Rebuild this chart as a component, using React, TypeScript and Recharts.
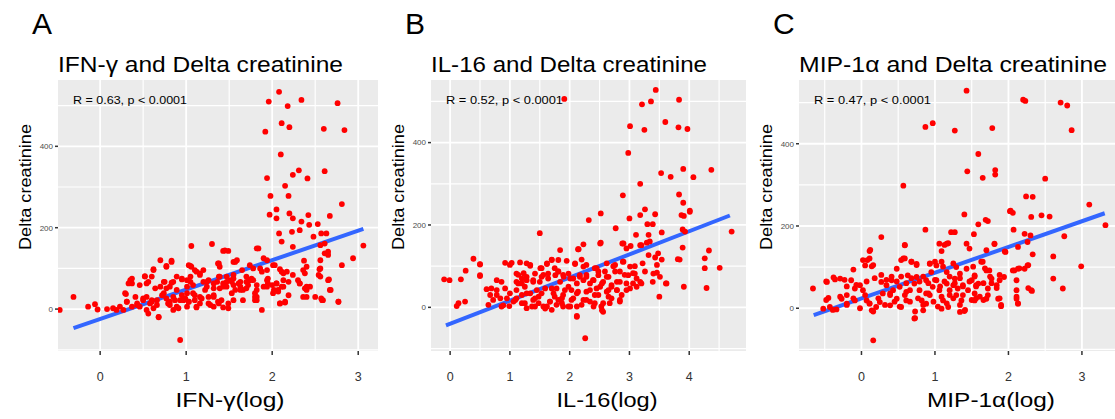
import React from 'react';
import { ScatterChart, Scatter, XAxis, YAxis, CartesianGrid, ReferenceLine } from 'recharts';

const FONT = '"Liberation Sans", Arial, Helvetica, sans-serif';

// [log concentration, delta creatinine]
const ifnPoints: [number, number][] = [
  [2.08, 534], [1.96, 510], [2.18, 499], [2.34, 514], [2.76, 506], [2.11, 457], [2.2, 447], [1.92, 436], [2.6, 443], [2.84, 440],
  [2.1, 380], [2.31, 341], [2.24, 330], [2.41, 321], [2.61, 339], [1.94, 322], [2.15, 303], [1.98, 278], [2.19, 278], [2.81, 258], [2.05, 245],
  [1.97, 232], [2.05, 223], [2.2, 235], [2.24, 223], [2.34, 215], [2.42, 231], [2.53, 209], [2.67, 229], [2.08, 186], [2.11, 166],
  [2.23, 190], [2.32, 194], [2.43, 207], [2.48, 178], [2.57, 186], [2.63, 186], [2.61, 161], [2.65, 141], [2.65, 133], [3.06, 156],
  [2.94, 125], [2.81, 108], [2.24, 153], [2.56, 157], [2.37, 119], [2.4, 104], [2.56, 120], [2.56, 100], [2.54, 84], [2.36, 96],
  [2.3, 71], [2.32, 63], [2.38, 51], [2.4, 30], [2.5, 30], [2.57, 26], [2.65, 71], [2.67, 47], [2.77, 18], [2.58, 22],
  [2.15, 16], [2.09, 14], [2.19, 34], [2.13, 55], [2.13, 71], [2.05, 63], [2.0, 59], [2.02, 47], [2.07, 43], [2.17, 92],
  [2.24, 84], [2.11, 92], [1.94, 96], [2.01, 108], [1.95, 75], [1.9, 55], [1.82, 47], [1.82, 30], [1.88, -2], [1.8, 22],
  [1.78, 71], [1.72, 59], [1.7, 80], [1.63, 67], [1.55, 59], [1.51, 71], [1.47, 55], [1.43, 63], [1.39, 51], [1.36, 67],
  [1.38, 80], [1.32, 51], [1.26, 71], [1.2, 96], [1.16, 84], [1.12, 92], [1.06, 104], [1.03, 108], [1.05, 80], [1.08, 59],
  [1.01, 71], [0.95, 75], [0.89, 80], [0.85, 67], [0.81, 55], [0.77, 51], [0.75, 67], [0.7, 120], [0.83, 116], [0.77, 104],
  [0.62, 96], [0.52, 80], [0.46, 59], [0.56, 67], [0.35, 71], [0.37, 75], [0.33, 63], [0.3, 37], [0.41, 30], [0.31, 18],
  [0.37, 6], [0.43, 10], [0.5, 22], [0.54, 30], [0.58, 14], [0.62, 2], [0.68, -19], [0.66, 22], [0.72, 34], [0.77, 26],
  [0.81, 10], [0.85, -2], [0.89, 6], [0.93, 22], [0.99, 26], [1.03, 18], [1.08, 39], [1.12, 4], [1.16, 30], [1.22, 47],
  [1.28, 10], [1.32, 30], [1.38, 14], [1.41, 22], [1.49, 2], [1.53, 39], [1.55, 22], [0.93, -76], [1.06, 155], [1.3, 160],
  [1.43, 143], [1.49, 143], [1.59, 120], [1.55, 116], [1.65, 96], [1.78, 100], [1.84, 149], [1.9, 125], [1.94, 120], [1.38, 112],
  [1.39, 104], [1.01, 39], [1.01, 55], [0.89, 47], [0.95, 34], [1.2, 67], [1.24, 55], [1.63, 47], [1.7, 51], [1.47, 80],
  [1.55, 84], [1.8, 39], [1.66, 22], [0.15, 2], [0.08, 0], [-0.03, -1], [-0.06, 12], [-0.14, 6], [-0.31, 30], [-0.47, -2],
  [0.23, 6], [0.27, -2], [0.19, -2], [0.46, 6], [0.54, -2], [0.56, -11], [0.6, 22], [0.7, 55], [0.64, 51], [0.81, 18],
  [0.87, 22], [1.01, 6], [1.1, 22], [1.16, 14], [1.26, 30], [1.32, 6], [1.43, 4], [1.53, 67], [1.74, 71], [1.88, 92], [1.95, 63],
  [1.45, 144], [1.82, 149], [0.83, 119], [0.77, 106], [0.62, 98], [1.05, 106], [1.1, 96], [1.16, 88], [1.37, 112], [1.57, 116],
  [1.74, 108], [1.86, 100], [2.03, 108], [2.09, 98], [2.13, 88], [0.37, 63], [0.52, 81], [0.54, 63], [0.6, 80], [0.74, 67],
  [0.83, 65], [0.95, 73], [1.05, 67], [1.24, 67], [1.32, 63], [1.39, 80], [1.47, 67], [1.55, 75], [1.61, 63], [1.7, 67],
  [1.76, 75], [1.82, 59], [1.94, 71], [2.05, 63], [2.11, 55], [2.19, 67], [2.32, 63], [2.4, 55], [2.38, 88], [2.55, 98],
  [2.56, 80], [2.61, 137], [2.66, 73], [2.68, 47], [0.29, 39], [0.31, 18], [0.43, 14], [0.5, 26], [0.6, 18], [0.66, 10],
  [0.68, -20], [0.74, 39], [0.79, 14], [0.85, 30], [0.91, 2], [0.97, 22], [1.03, 18], [1.1, 34], [1.12, 6], [1.18, 26],
  [1.26, 14], [1.32, 34], [1.37, 18], [1.43, 55], [1.49, 14], [1.57, 47], [1.63, 55], [1.66, 47], [1.8, 30], [1.82, 22],
  [1.94, 55], [2.01, 39], [2.07, 47], [2.09, 14], [2.15, 18], [2.36, 30], [2.4, 47], [2.44, 55], [2.59, 22], [2.77, 18],
];

const il16Points: [number, number][] = [
  [1.91, 506], [3.44, 528], [3.21, 493], [3.36, 500], [3.83, 504], [3.01, 440], [3.25, 431], [3.6, 450], [3.82, 437], [3.97, 433],
  [2.98, 375], [3.53, 326], [3.69, 317], [3.9, 336], [4.07, 316], [4.37, 334], [3.18, 300], [2.89, 272], [3.83, 274], [3.9, 254],
  [3.26, 238], [4.01, 235], [2.52, 228], [2.32, 212], [3.0, 216], [3.18, 224], [3.43, 226], [3.3, 202], [3.39, 202], [3.87, 224],
  [3.91, 222], [4.01, 232], [2.77, 192], [1.5, 180], [2.52, 157], [2.88, 155], [3.11, 176], [3.32, 176], [3.54, 182], [3.89, 189],
  [3.93, 184], [4.71, 184], [2.23, 153], [2.14, 141], [1.84, 139], [2.95, 143], [3.18, 151], [3.34, 160], [3.89, 145], [4.33, 138],
  [4.26, 119], [3.81, 117], [3.43, 121], [3.48, 131], [0.39, 118], [0.5, 104], [0.26, 89], [1.17, 109], [1.28, 107], [1.34, 101],
  [1.7, 115], [1.62, 107], [1.53, 95], [1.95, 113], [2.09, 107], [2.23, 99], [2.45, 95], [2.62, 107], [2.76, 103], [2.89, 111],
  [3.01, 99], [3.09, 100], [3.22, 107], [4.26, 95], [4.51, 96], [4.29, 47], [3.91, 50], [3.5, 26], [3.61, 58], [3.46, 84],
  [3.39, 62], [-0.1, 68], [-0.01, 66], [0.18, 68], [0.5, 76], [0.11, 3], [0.14, 10], [0.25, 14], [0.64, 6], [0.69, 46],
  [0.78, 66], [0.86, 62], [0.78, 30], [0.72, 18], [0.86, 2], [0.99, 3], [1.09, 18], [1.11, 42], [1.14, 79], [1.23, 83],
  [1.28, 66], [1.25, 50], [1.2, 30], [1.25, 10], [1.39, 18], [1.45, 42], [1.5, 62], [1.56, 79], [1.64, 70], [1.59, 46],
  [1.42, 2], [1.56, 2], [1.7, -6], [1.67, 14], [1.75, 26], [1.78, 46], [1.84, 62], [1.81, 87], [1.89, 79], [2.01, 70],
  [1.98, 50], [1.89, 30], [1.87, 10], [2.01, 2], [2.06, 22], [2.14, 38], [2.12, 58], [2.23, 66], [2.28, 79], [2.34, 58],
  [2.28, 38], [2.23, 18], [2.12, -21], [2.34, 14], [2.42, 30], [2.51, 50], [2.56, 62], [2.53, 2], [2.56, -11], [2.65, 26],
  [2.7, 54], [2.79, 42], [2.84, 62], [2.87, 30], [2.84, 18], [2.92, 79], [3.06, 58], [3.12, 70], [3.2, 58], [3.26, 87],
  [3.06, 83], [2.95, 42], [2.26, -75], [1.0, 103], [1.11, 62], [1.34, 34], [1.48, 26], [1.89, 2], [2.12, 2], [2.42, 10],
  [2.62, 74], [2.76, 87], [2.48, 87], [1.75, 95], [1.39, 66], [1.2, 58], [0.92, 46], [0.95, 22], [1.7, 46], [2.03, 42],
  [2.17, 74], [2.39, 66], [2.45, 46], [2.65, 42], [2.67, 10], [1.28, -2], [1.62, 2], [1.81, 18],
  [0.5, 105], [0.5, 78], [0.92, 108], [1.03, 108], [1.34, 103], [1.51, 95], [1.62, 105], [1.7, 116], [1.81, 115], [2.15, 141],
  [2.2, 116], [2.09, 105], [2.28, 103], [2.51, 155], [2.42, 95], [2.59, 87], [2.73, 100], [2.9, 111], [2.9, 155], [3.02, 149],
  [3.2, 151], [3.29, 157], [3.32, 127], [3.46, 103], [3.54, 116], [3.4, 82], [3.51, 74], [3.62, 58], [3.84, 116], [1.11, 82],
  [1.2, 70], [1.14, 58], [1.28, 74], [1.39, 62], [1.42, 82], [1.53, 74], [1.64, 82], [1.76, 78], [1.81, 87], [1.9, 74],
  [1.98, 82], [2.06, 70], [2.17, 78], [2.28, 74], [2.4, 66], [2.48, 78], [2.54, 58], [2.65, 74], [2.7, 50], [2.79, 62],
  [2.84, 87], [2.98, 78], [3.09, 82], [3.18, 62], [3.12, 50], [0.61, 44], [0.67, 30], [0.78, 42], [0.84, 22], [0.89, 5],
  [1.0, 34], [1.06, 14], [1.11, 22], [1.2, 10], [1.28, 34], [1.37, 2], [1.42, 22], [1.48, 10], [1.53, 34], [1.59, -3],
  [1.67, 14], [1.73, 34], [1.78, 6], [1.87, 22], [1.92, 42], [1.98, 2], [2.03, 18], [2.12, -23], [2.12, 34], [2.2, 6],
  [2.28, 18], [2.34, 42], [2.4, 2], [2.48, 30], [2.54, -7], [2.56, 10], [2.62, 38], [2.7, 22], [2.79, 42], [2.84, 14],
  [2.95, 58], [3.01, 46],
];

const mipPoints: [number, number][] = [
  [1.43, 529], [2.2, 507], [2.23, 504], [2.71, 500], [2.8, 493], [0.87, 441], [0.97, 450], [1.27, 432], [1.78, 438], [2.86, 433],
  [1.59, 375], [1.44, 333], [1.65, 317], [1.82, 336], [1.82, 325], [2.5, 315], [0.57, 298], [2.24, 272], [2.33, 271], [3.1, 252],
  [2.03, 237], [1.4, 228], [2.02, 236], [2.06, 232], [2.31, 222], [2.45, 226], [2.56, 223], [1.69, 215], [1.72, 212], [1.59, 204],
  [3.32, 202], [0.87, 191], [1.22, 185], [1.27, 185], [1.53, 180], [2.07, 191], [2.22, 181], [2.3, 177], [2.76, 175], [0.27, 173],
  [1.06, 157], [1.16, 157], [1.43, 157], [1.47, 145], [1.81, 157], [1.7, 141], [1.96, 137], [2.13, 149], [0.11, 139], [0.59, 153],
  [2.61, 126], [1.09, 139], [2.33, 131], [2.26, 161], [0.08, 117], [0.05, 104], [0.14, 102], [0.54, 117], [0.59, 121], [0.68, 113],
  [0.75, 108], [0.93, 108], [1.02, 104], [1.09, 113], [1.29, 100], [1.43, 96], [1.65, 113], [1.7, 92], [1.74, 92], [2.08, 92],
  [2.13, 96], [2.22, 96], [2.26, 104], [2.99, 102], [-0.11, 94], [-0.29, 72], [-0.38, 75], [-0.47, 64], [-0.66, 48], [-0.45, 25],
  [-0.52, -1], [-0.43, 3], [-0.34, -3], [-0.27, 23], [-0.2, 32], [-0.14, 68], [-0.09, 48], [-0.02, 56], [0.02, 44], [0.07, 19],
  [0.11, 11], [0.14, -5], [0.16, -78], [0.2, 3], [0.25, 15], [0.29, 36], [0.27, 64], [0.34, 56], [0.41, 68], [0.43, 44],
  [0.48, 23], [0.54, 3], [0.61, 19], [0.66, 44], [0.72, 60], [0.63, 80], [0.75, 76], [0.79, 44], [0.82, 19], [0.72, -25],
  [0.84, -5], [0.88, 11], [0.93, 32], [0.97, 52], [1.02, 68], [1.06, 44], [1.11, 19], [1.09, -1], [1.18, 3], [1.2, 32],
  [1.25, 56], [1.27, 72], [1.31, 48], [1.36, 19], [1.34, -9], [1.4, -7], [1.45, 44], [1.5, 68], [1.54, 80], [1.56, 56],
  [1.54, 19], [1.61, 28], [1.7, 23], [1.72, 48], [1.77, 72], [1.84, 56], [1.88, 68], [1.94, 76], [1.9, 5], [1.86, 23],
  [2.11, 44], [2.11, 23], [2.13, 11], [2.11, 68], [2.32, 42], [2.61, 72], [2.74, 48], [0.39, 7], [-0.09, 19], [-0.2, 11],
  [0.48, 96], [0.95, 88], [1.16, 88], [1.34, 84], [0.52, 52], [0.88, 68], [1.16, 60], [1.38, 56], [1.59, 60], [0.61, 40],
  [1.29, 32], [0.88, 36], [0.39, 36],
  [0.12, 142], [0.59, 154], [1.13, 154], [1.18, 158], [1.81, 156], [1.95, 138], [0.02, 117], [0.11, 121], [0.16, 105], [0.57, 121],
  [0.68, 113], [0.75, 105], [0.93, 109], [1.0, 113], [1.11, 101], [1.25, 109], [1.52, 101], [1.63, 113], [1.68, 97], [1.75, 77],
  [1.88, 81], [2.06, 92], [2.15, 97], [2.27, 105], [2.31, 44], [-0.48, 65], [-0.36, 70], [-0.23, 69], [-0.2, 53], [-0.07, 57],
  [0.07, 65], [0.18, 73], [0.27, 81], [0.34, 69], [0.41, 77], [0.48, 65], [0.54, 77], [0.61, 61], [0.68, 73], [0.79, 65],
  [0.84, 77], [0.91, 61], [1.0, 69], [1.07, 53], [1.13, 65], [1.2, 77], [1.27, 61], [1.34, 73], [1.38, 53], [1.47, 65],
  [1.54, 77], [1.56, 53], [1.66, 61], [1.77, 61], [1.84, 49], [-0.48, 20], [-0.39, -4], [-0.29, 28], [-0.2, 8], [-0.11, 24],
  [-0.02, 0], [0.05, 32], [0.11, 12], [0.16, -8], [0.23, 24], [0.32, 8], [0.39, 32], [0.45, 16], [0.52, 4], [0.59, 32],
  [0.66, 16], [0.73, -8], [0.77, 24], [0.84, 8], [0.91, 36], [0.98, 16], [1.04, 4], [1.09, 28], [1.16, 12], [1.2, 44],
  [1.25, 24], [1.34, 8], [1.38, 32], [1.41, -4], [1.5, 20], [1.54, 36], [1.56, 24], [1.66, 20], [1.72, 32], [1.88, 24],
  [1.9, 8], [2.11, 28], [2.13, 12], [2.27, 49], [0.73, -24],
];

// fitted line end points
const ifnFit = [{ x: -0.31, y: -47 }, { x: 3.06, y: 197 }];
const il16Fit = [{ x: -0.07, y: -44 }, { x: 4.68, y: 223 }];
const mipFit = [{ x: -0.65, y: -17 }, { x: 3.31, y: 231 }];

const ifnXTicks = [0, 1, 2, 3];
const il16XTicks = [0, 1, 2, 3, 4];
const mipXTicks = [0, 1, 2, 3];
const yTicks = [0, 200, 400];
const yMinor = [-100, 100, 300, 500];

const panels = [
  {
    letter: 'A', title: 'IFN-γ and Delta creatinine', xTitle: 'IFN-γ(log)', stat: 'R = 0.63, p < 0.0001',
    points: ifnPoints, fit: ifnFit, xTicks: ifnXTicks, xMinor: [0.5, 1.5, 2.5],
    xDomain: [-0.49, 3.23], yDomain: [-103, 563],
    left: 0, width: 378,
    titleW: 285, statW: 114, xTitleX: 230, xTitleW: 109,
  },
  {
    letter: 'B', title: 'IL-16 and Delta creatinine', xTitle: 'IL-16(log)', stat: 'R = 0.52, p < 0.0001',
    points: il16Points, fit: il16Fit, xTicks: il16XTicks, xMinor: [0.5, 1.5, 2.5, 3.5, 4.5],
    xDomain: [-0.32, 4.95], yDomain: [-106, 552],
    left: 373, width: 373,
    titleW: 276, statW: 117, xTitleX: 607, xTitleW: 101,
  },
  {
    letter: 'C', title: 'MIP-1α and Delta creatinine', xTitle: 'MIP-1α(log)', stat: 'R = 0.47, p < 0.0001',
    points: mipPoints, fit: mipFit, xTicks: mipXTicks, xMinor: [-0.5, 0.5, 1.5, 2.5],
    xDomain: [-0.85, 3.45], yDomain: [-104, 555],
    left: 741, width: 374,
    titleW: 308, statW: 117, xTitleX: 991, xTitleW: 128,
  },
];

const Dot = (props: any) => <circle cx={props.cx} cy={props.cy} r={2.9} fill="#FF0000" />;

const Panel = ({ p }: { p: typeof panels[number] }) => {
  const data = p.points.map(([x, y]) => ({ x, y }));
  return (
    <div style={{ position: 'absolute', left: p.left, top: 0 }}>
      <ScatterChart width={p.width} height={419} margin={{ top: 80, right: 0, bottom: 0, left: 0 }}>
        <CartesianGrid fill="#EBEBEB" stroke="#FFFFFF" strokeWidth={1.2} horizontalValues={yMinor} verticalValues={p.xMinor} />
        <CartesianGrid stroke="#FFFFFF" strokeWidth={1.8} horizontalValues={yTicks} verticalValues={p.xTicks} />
        <XAxis
          type="number" dataKey="x" domain={p.xDomain} ticks={p.xTicks} allowDataOverflow
          height={68} axisLine={false} tickSize={4} tickMargin={17}
          tickLine={{ stroke: '#333', strokeWidth: 1.5 }}
          tick={{ fontSize: 12.5, fill: '#333', fontFamily: FONT }}
        />
        <YAxis
          type="number" dataKey="y" domain={p.yDomain} ticks={yTicks} allowDataOverflow
          width={58} axisLine={false} tickSize={3} tickMargin={2}
          tickLine={{ stroke: '#333', strokeWidth: 1.5 }}
          tick={{ fontSize: 8, fill: '#4D4D4D', fontFamily: FONT }}
        />
        <Scatter data={data} shape={Dot} isAnimationActive={false} />
        <ReferenceLine segment={p.fit} stroke="#3366FF" strokeWidth={4} />
      </ScatterChart>
    </div>
  );
};

export default function App() {
  return (
    <div style={{ position: 'absolute', left: 0, top: 0, width: 1115, height: 419, background: '#fff', overflow: 'hidden' }}>
      {panels.map(p => <Panel key={p.letter} p={p} />)}
      <svg width={1115} height={419} style={{ position: 'absolute', left: 0, top: 0, pointerEvents: 'none' }} fontFamily={FONT}>
        {panels.map(p => {
          const plotLeft = p.left + 58;
          return (
            <g key={p.letter}>
              <text x={plotLeft - 26} y={34} fontSize={30} fill="#000">{p.letter}</text>
              <text x={plotLeft} y={72} fontSize={22} fill="#000" textLength={p.titleW} lengthAdjust="spacingAndGlyphs">{p.title}</text>
              <text x={plotLeft + 15} y={104} fontSize={11} fill="#000" textLength={p.statW} lengthAdjust="spacingAndGlyphs">{p.stat}</text>
              <text
                x={0} y={0} fontSize={17} fill="#000" textAnchor="middle" dominantBaseline="central"
                textLength={126} lengthAdjust="spacingAndGlyphs"
                transform={`translate(${plotLeft - 33},187) rotate(-90)`}
              >Delta creatinine</text>
              <text x={p.xTitleX} y={407} fontSize={20} fill="#000" textAnchor="middle" textLength={p.xTitleW} lengthAdjust="spacingAndGlyphs">{p.xTitle}</text>
            </g>
          );
        })}
      </svg>
    </div>
  );
}
